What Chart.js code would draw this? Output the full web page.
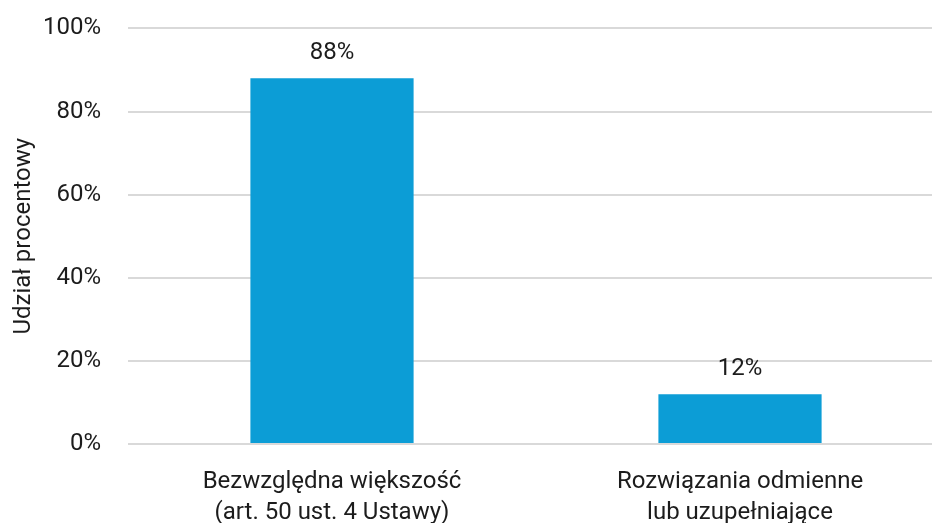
<!DOCTYPE html>
<html>
<head>
<meta charset="utf-8">
<script src="https://cdn.jsdelivr.net/npm/chart.js@4/dist/chart.umd.min.js"></script>
<style>
  html, body { margin: 0; padding: 0; background: #fff; overflow: hidden; }
  #wrap { position: absolute; left: 0; top: -13px; width: 944px; height: 573px; }
</style>
</head>
<body>
<div id="wrap"><canvas id="chart" width="944" height="573"></canvas></div>
<script>
// --- data ---
const categories = [
    ['Bezwzględna większość', '(art. 50 ust. 4 Ustawy)'],
    ['Rozwiązania odmienne', 'lub uzupełniające']
];
const shares = [88, 12];
const yTicks = [0, 20, 40, 60, 80, 100];

const FONT = '"Roboto", sans-serif';
const TEXT = '#1c1c1c';
const BAR = '#0c9dd6';

// draws "88%" etc. above each bar
const valueLabels = {
    id: 'valueLabels',
    afterDatasetsDraw(chart) {
        const ctx = chart.ctx;
        const meta = chart.getDatasetMeta(0);
        ctx.save();
        ctx.font = '24px ' + FONT;
        ctx.fillStyle = TEXT;
        ctx.textAlign = 'center';
        ctx.textBaseline = 'middle';
        meta.data.forEach((bar, i) => {
            ctx.fillText(shares[i] + '%', bar.x, bar.y - 25);
        });
        ctx.restore();
    }
};

new Chart(document.getElementById('chart'), {
    type: 'bar',
    data: {
        labels: categories,
        datasets: [{
            data: shares,
            backgroundColor: BAR,
            barPercentage: 0.4,
            categoryPercentage: 1
        }]
    },
    options: {
        responsive: false,
        animation: false,
        layout: { padding: { top: 14, right: 0, bottom: 0, left: 0 } },
        plugins: {
            legend: { display: false },
            tooltip: { enabled: false }
        },
        scales: {
            x: {
                grid: { display: false, drawTicks: false },
                border: { display: false },
                ticks: {
                    color: TEXT,
                    font: { family: FONT, size: 24, lineHeight: 1.27 },
                    padding: 23,
                    maxRotation: 0
                },
                afterFit(scale) { scale.height = 116; }
            },
            y: {
                min: 0,
                max: 100,
                afterBuildTicks(scale) { scale.ticks = yTicks.map(v => ({ value: v })); },
                grid: { color: '#d9d9d9', lineWidth: 2, drawTicks: false },
                border: { display: false },
                ticks: {
                    color: TEXT,
                    font: { family: FONT, size: 24 },
                    padding: 27,
                    callback: v => v + '%'
                },
                title: {
                    display: true,
                    text: 'Udział procentowy',
                    color: TEXT,
                    font: { family: FONT, size: 24 },
                    padding: { top: 10, bottom: 0 }
                },
                afterFit(scale) { scale.width = 128; }
            }
        }
    },
    plugins: [valueLabels]
});
</script>
</body>
</html>
